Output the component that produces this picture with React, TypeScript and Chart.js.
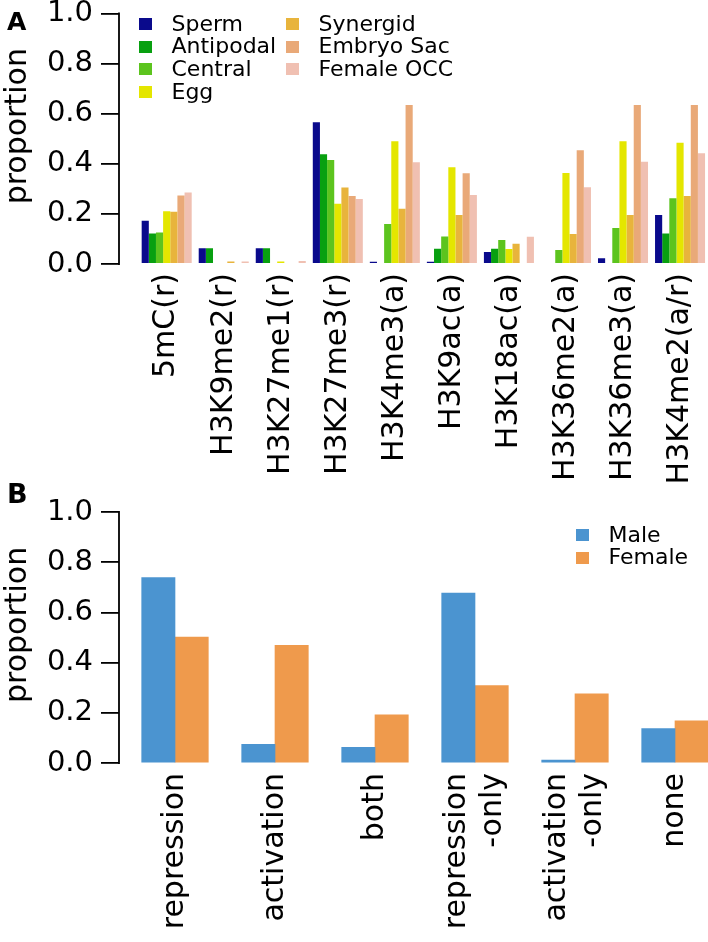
import React, { useEffect, useRef } from 'react';
import { Chart, registerables } from 'chart.js';

Chart.register(...registerables);

const FONT = "'DejaVu Sans', sans-serif";

// ---------- Panel A data ----------
const markCategories = [
  '5mC(r)', 'H3K9me2(r)', 'H3K27me1(r)', 'H3K27me3(r)', 'H3K4me3(a)',
  'H3K9ac(a)', 'H3K18ac(a)', 'H3K36me2(a)', 'H3K36me3(a)', 'H3K4me2(a/r)',
];
const cellTypes = ['Sperm', 'Antipodal', 'Central', 'Egg', 'Synergid', 'Embryo Sac', 'Female OCC'];
const sperm = [0.173, 0.063, 0.063, 0.566, 0.009, 0.009, 0.048, 0, 0.023, 0.196];
const antipodal = [0.122, 0.063, 0.063, 0.438, 0, 0.061, 0.061, 0, 0, 0.122];
const central = [0.126, 0, 0, 0.415, 0.16, 0.11, 0.096, 0.056, 0.144, 0.262];
const egg = [0.211, 0, 0.01, 0.241, 0.49, 0.386, 0.06, 0.363, 0.49, 0.484];
const synergid = [0.209, 0.01, 0, 0.305, 0.221, 0.196, 0.081, 0.12, 0.196, 0.271];
const embryoSac = [0.273, 0, 0, 0.271, 0.635, 0.362, 0, 0.454, 0.635, 0.635];
const femaleOCC = [0.285, 0.01, 0.012, 0.259, 0.406, 0.275, 0.109, 0.306, 0.408, 0.442];
const cellSeries = [sperm, antipodal, central, egg, synergid, embryoSac, femaleOCC];
const cellColors = ['#0a0a8c', '#08a010', '#5cc41e', '#e4e600', '#e8b43c', '#e9a978', '#f0c0b2'];

// ---------- Panel B data ----------
const regCategories = [
  ['repression'], ['activation'], ['both'], ['repression', '-only'], ['activation', '-only'], ['none'],
];
const sexes = ['Male', 'Female'];
const male = [0.739, 0.074, 0.062, 0.677, 0.012, 0.137];
const female = [0.502, 0.469, 0.192, 0.308, 0.276, 0.168];
const sexSeries = [male, female];
const sexColors = ['#4b94d0', '#ef9a4c'];

const yTicks = [0, 0.2, 0.4, 0.6, 0.8, 1.0];

const spinePlugin = {
  id: 'spine',
  afterDraw(chart: any) {
    const ys = chart.scales.y;
    const ctx = chart.ctx;
    const x = chart.chartArea.left;
    ctx.save();
    ctx.strokeStyle = '#000';
    ctx.lineWidth = 1.8;
    ctx.beginPath();
    ctx.moveTo(x, ys.getPixelForValue(0) + 0.9);
    ctx.lineTo(x, ys.getPixelForValue(1) - 0.9);
    ctx.stroke();
    ctx.restore();
  },
};

function yScale() {
  return {
    min: 0,
    max: 1.1,
    afterBuildTicks: (s: any) => {
      s.ticks = yTicks.map((v) => ({ value: v }));
    },
    ticks: {
      callback: (v: any) => Number(v).toFixed(1),
      font: { size: 29, family: FONT },
      color: '#000',
      padding: 8,
    },
    grid: { drawOnChartArea: false, drawTicks: true, tickLength: 18, color: '#000', lineWidth: 1.8 },
    border: { display: false },
    title: { display: true, text: 'proportion', font: { size: 30, family: FONT }, color: '#000', padding: 0 },
    afterFit: (s: any) => {
      s.width = 119;
      s.paddingTop = 0;
      s.paddingBottom = 0;
    },
  };
}

function BarPanel({ config, top, height }: { config: any; top: number; height: number }) {
  const ref = useRef<HTMLCanvasElement | null>(null);
  useEffect(() => {
    if (!ref.current) return;
    const chart = new Chart(ref.current, config);
    return () => chart.destroy();
  }, []);
  return (
    <canvas
      ref={ref}
      width={708}
      height={height}
      style={{ position: 'absolute', left: 0, top, width: 708, height, display: 'block' }}
    />
  );
}

const configA = {
  type: 'bar',
  data: {
    datasets: cellTypes.map((name, k) => ({
      label: name,
      data: cellSeries[k].map((v, i) => ({ x: i, y: v })),
      backgroundColor: cellColors[k],
      borderWidth: 0,
      categoryPercentage: 0.877,
      barPercentage: 1,
    })),
  },
  options: {
    animation: false,
    responsive: false,
    maintainAspectRatio: false,
    layout: { padding: { top: 8.45, left: 0, right: 0, bottom: 0 } },
    plugins: { legend: { display: false }, tooltip: { enabled: false } },
    scales: {
      x: {
        type: 'linear',
        min: -0.836,
        max: 9.49,
        offset: false,
        afterBuildTicks: (s: any) => {
          s.ticks = markCategories.map((_, i) => ({ value: i }));
        },
        ticks: {
          autoSkip: false,
          maxRotation: 90,
          minRotation: 90,
          padding: 9,
          font: { size: 30, family: FONT },
          color: '#000',
          callback: (_v: any, i: number) => markCategories[i],
        },
        grid: { display: false, drawTicks: false },
        border: { display: false },
        afterFit: (s: any) => {
          s.height = 226;
          s.paddingLeft = 0;
          s.paddingRight = 0;
        },
      },
      y: yScale(),
    },
  },
  plugins: [spinePlugin],
};

const LABEL_SHIFT = 0.18;

const configB = {
  type: 'bar',
  data: {
    datasets: sexes.map((name, k) => ({
      label: name,
      data: sexSeries[k].map((v, i) => ({ x: i, y: v })),
      backgroundColor: sexColors[k],
      borderWidth: 0,
      barThickness: 33.3,
    })),
  },
  options: {
    animation: false,
    responsive: false,
    maintainAspectRatio: false,
    layout: { padding: { top: 16.9, left: 0, right: 0, bottom: 0 } },
    plugins: { legend: { display: false }, tooltip: { enabled: false } },
    scales: {
      x: {
        type: 'linear',
        min: -0.56,
        max: 5.33,
        offset: false,
        afterBuildTicks: (s: any) => {
          s.ticks = regCategories.map((lab, i) => ({ value: i - (lab.length - 1) * LABEL_SHIFT }));
        },
        ticks: {
          autoSkip: false,
          maxRotation: 90,
          minRotation: 90,
          padding: 10,
          font: { size: 30, family: FONT },
          color: '#000',
          callback: (_v: any, i: number) => regCategories[i],
        },
        grid: { display: false, drawTicks: false },
        border: { display: false },
        afterFit: (s: any) => {
          s.height = 179;
          s.paddingLeft = 0;
          s.paddingRight = 0;
        },
      },
      y: yScale(),
    },
  },
  plugins: [spinePlugin],
};

function LegendItem({ left, top, color, label }: { left: number; top: number; color: string; label: string }) {
  return (
    <div
      style={{
        position: 'absolute',
        left,
        top,
        height: 22.7,
        display: 'flex',
        alignItems: 'center',
        whiteSpace: 'nowrap',
      }}
    >
      <span style={{ display: 'inline-block', width: 13, height: 12, background: color, marginRight: 19.5 }} />
      <span style={{ fontFamily: FONT, fontSize: 22, lineHeight: '22.7px', color: '#000' }}>{label}</span>
    </div>
  );
}

export default function App() {
  const colLefts = [139, 286];
  return (
    <div style={{ position: 'absolute', left: 0, top: 0, width: 708, height: 942, background: '#fff', overflow: 'hidden' }}>
      <BarPanel config={configA} top={-20} height={510} />
      <BarPanel config={configB} top={470} height={472} />
      <div style={{ position: 'absolute', left: 7, top: 9, fontFamily: FONT, fontWeight: 'bold', fontSize: 25, lineHeight: '25px' }}>A</div>
      <div style={{ position: 'absolute', left: 7, top: 480, fontFamily: FONT, fontWeight: 'bold', fontSize: 27, lineHeight: '27px' }}>B</div>
      {cellTypes.map((name, k) => (
        <LegendItem
          key={name}
          left={colLefts[k < 4 ? 0 : 1]}
          top={12.6 + (k < 4 ? k : k - 4) * 22.7}
          color={cellColors[k]}
          label={name}
        />
      ))}
      {sexes.map((name, k) => (
        <LegendItem key={name} left={576} top={523.7 + k * 22.7} color={sexColors[k]} label={name} />
      ))}
    </div>
  );
}
